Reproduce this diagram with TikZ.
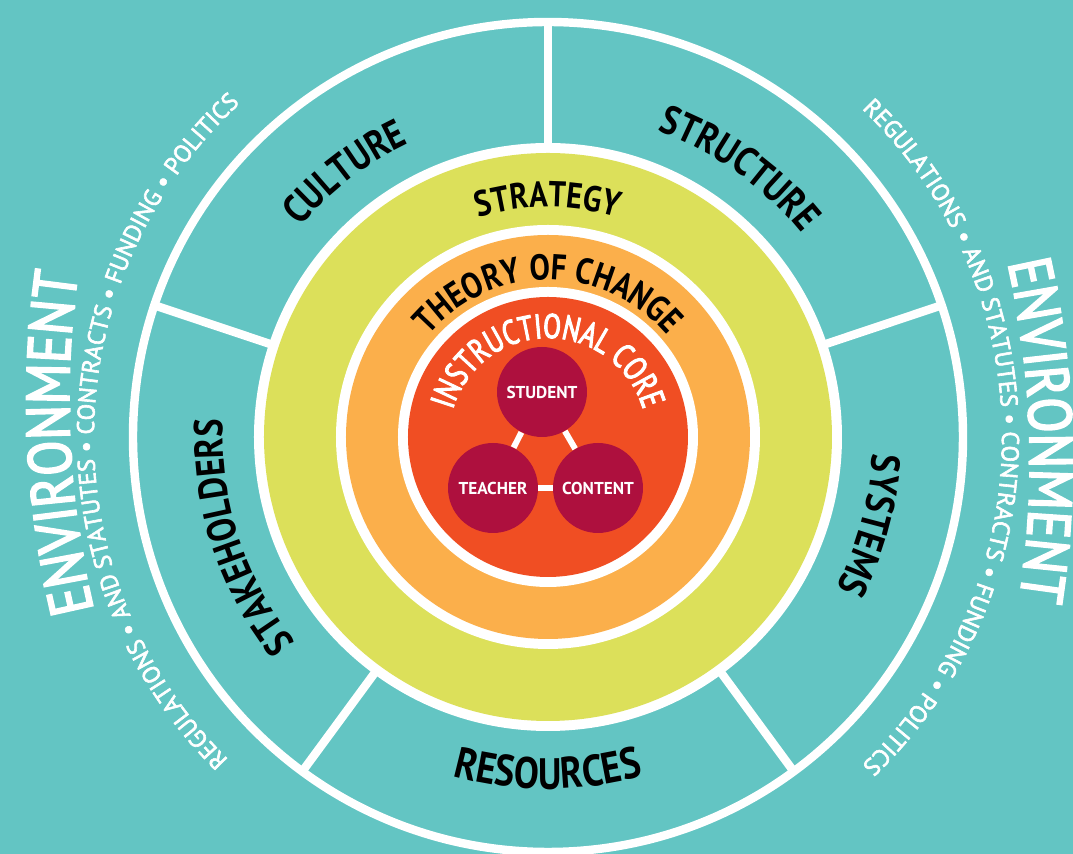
\documentclass[tikz,border=0pt]{standalone}
\usepackage{fontspec}
\setmainfont{PT Sans}
\newfontfamily\condfont{PT Sans}[FakeStretch=0.85]
\newfontfamily\medfont{PT Sans}[FakeStretch=0.85, FakeBold=3]
\newfontfamily\narrowfont{PT Sans}[FakeStretch=0.76, FakeBold=3]
\newfontfamily\envfont{PT Sans}[FakeBold=2.5]
\usetikzlibrary{decorations.text}

\definecolor{bgteal}{HTML}{63C5C3}
\definecolor{ringyellow}{HTML}{DCE05A}
\definecolor{ringorange}{HTML}{FBAF4B}
\definecolor{corered}{HTML}{F04E23}
\definecolor{corecrimson}{HTML}{AE103E}

\newcommand{\ringlabel}{\condfont\bfseries\fontsize{23pt}{23pt}\selectfont}
\newcommand{\bandlabel}{\condfont\bfseries\fontsize{20.5pt}{20.5pt}\selectfont}
\newcommand{\corelabel}{\narrowfont\fontsize{19.5pt}{19.5pt}\selectfont}
\newcommand{\envbig}{\medfont\fontsize{34.5pt}{34.5pt}\selectfont}
\newcommand{\envsmall}{\envfont\fontsize{13.8pt}{13.8pt}\selectfont}

\begin{document}
\begin{tikzpicture}[x=0.02cm, y=0.02cm]

% Define styles
\tikzstyle{divider} = [draw=white, line width=4.8pt]
\tikzstyle{ringtext} = [decorate, decoration={text along path, text align=center}]
\tikzstyle{core} = [circle, fill=corecrimson, minimum size=1.8cm, inner sep=0pt, text=white, font=\bfseries\fontsize{9.8pt}{9.8pt}\selectfont]
\tikzstyle{link} = [draw=white, line width=3.4pt]

% Background
\fill[bgteal] (-548,-417) rectangle (525,437);
\useasboundingbox (-548,-417) rectangle (525,437);

% Outer ring and dividers
\draw[divider] (0,0) circle[radius=415];
\draw[divider] (90:280) -- (90:415);
\draw[divider] (18.5:280) -- (18.5:415);
\draw[divider] (161.5:280) -- (161.5:415);
\draw[divider] (233.7:280) -- (233.7:415);
\draw[divider] (306.3:280) -- (306.3:415);

% Inner rings
\fill[white] (0,0) circle[radius=294];
\fill[ringyellow] (0,0) circle[radius=284];
\fill[white] (0,0) circle[radius=212];
\fill[ringorange] (0,0) circle[radius=202];
\fill[white] (0,0) circle[radius=150];
\fill[corered] (0,0) circle[radius=140];

% Outer labels
\path[ringtext, decoration={text={|\ringlabel|CULTURE}}] (157.5:325) arc[start angle=157.5, end angle=97.5, radius=325];
\path[ringtext, decoration={text={|\ringlabel|STRUCTURE}}] (89.5:325) arc[start angle=89.5, end angle=19.5, radius=325];
\path[ringtext, decoration={text={|\ringlabel|SYSTEMS}}] (15:325) arc[start angle=15, end angle=-45.6, radius=325];
\path[ringtext, decoration={text={|\ringlabel|STAKEHOLDERS}}] (236:325) arc[start angle=236, end angle=160, radius=325];
\path[ringtext, decoration={text={|\ringlabel\fontsize{25pt}{25pt}\selectfont|RESOURCES}}] (235:352) arc[start angle=235, end angle=305, radius=352];

% Inner labels
\path[ringtext, decoration={text={|\bandlabel|STRATEGY}}] (135:230) arc[start angle=135, end angle=45, radius=230];
\path[ringtext, decoration={text={|\bandlabel|THEORY OF CHANGE}}] (165:157) arc[start angle=165, end angle=15, radius=157];
\path[ringtext, decoration={text color=white, text={|\corelabel|INSTRUCTIONAL CORE}}] (190:99) arc[start angle=190, end angle=-10, radius=99];

% Environment
\path[ringtext, decoration={text color=white, text={|\envsmall|REGULATIONS • AND STATUTES • CONTRACTS • FUNDING • POLITICS}}] (232:454) arc[start angle=232, end angle=126, radius=454];
\path[ringtext, decoration={text color=white, text={|\envsmall|REGULATIONS • AND STATUTES • CONTRACTS • FUNDING • POLITICS}}] (53:454) arc[start angle=53, end angle=-53, radius=454];
\path[ringtext, shift={(421,37)}, decoration={text color=white, text={|\envbig|ENVIRONMENT}}] (200:900) arc[start angle=200, end angle=165.4, radius=900];
\path[ringtext, shift={(-418,-25)}, decoration={text color=white, text={|\envbig|ENVIRONMENT}}] (20:900) arc[start angle=20, end angle=-16, radius=900];

% Nodes
\node[core] (student) at (-6,45) {STUDENT};
\node[core] (teacher) at (-55,-51) {TEACHER};
\node[core] (content) at (50,-51) {CONTENT};

% Links
\draw[link] (student) -- (teacher);
\draw[link] (student) -- (content);
\draw[link] (teacher) -- (content);

\end{tikzpicture}
\end{document}
